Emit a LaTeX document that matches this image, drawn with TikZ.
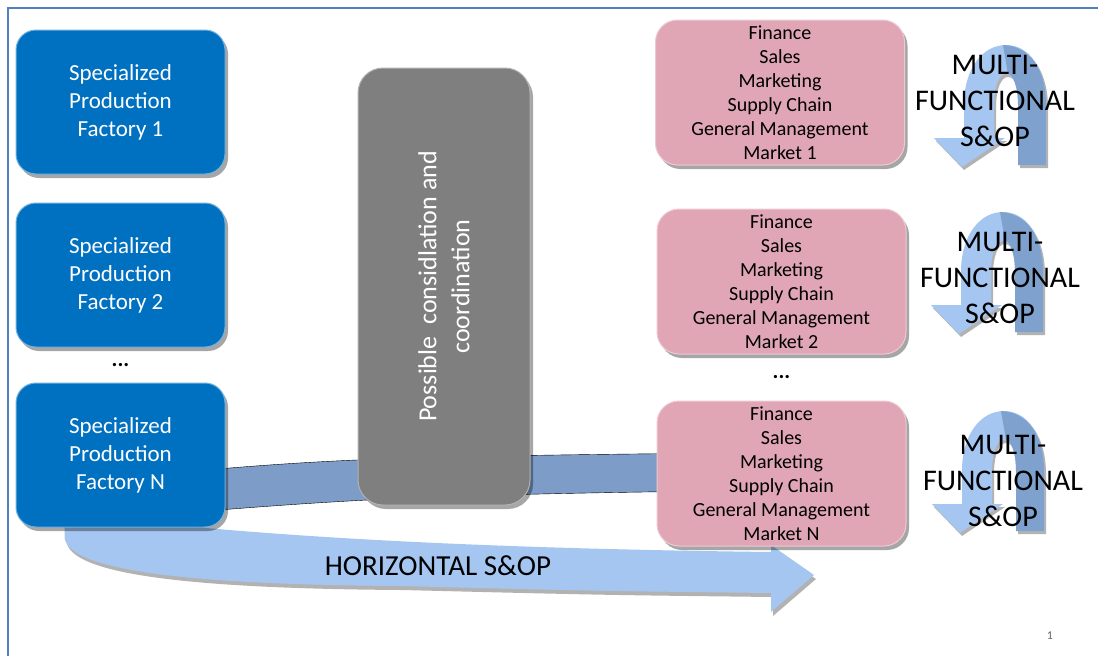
\documentclass[tikz,border=0pt]{standalone}
\usepackage{fontspec}
\setmainfont{Carlito}
\usetikzlibrary{positioning,calc,shadows,backgrounds}

\definecolor{factoryblue}{RGB}{0,112,192}
\definecolor{consgray}{RGB}{127,127,127}
\definecolor{marketpink}{RGB}{224,166,182}
\definecolor{arrowblue}{RGB}{164,198,240}
\definecolor{arrowdark}{RGB}{126,161,206}
\definecolor{bandblue}{RGB}{125,157,200}
\definecolor{frameblue}{RGB}{79,129,189}

\begin{document}
\begin{tikzpicture}[x=1pt,y=-1pt]
	% Configurable lengths
	\def\factoryGap{28pt}
	\def\factoryGapN{35pt}
	\def\marketGap{43pt}
	\def\marketGapN{46pt}

	% Styles
	\tikzstyle{boxshadow}=[drop shadow={shadow xshift=3pt, shadow yshift=-4pt, opacity=0.35, fill=black}]
	\tikzstyle{factory}=[boxshadow, rectangle, rounded corners=20pt, fill=factoryblue, draw=factoryblue!55!white, line width=1pt, minimum width=209pt, minimum height=144pt, text=white, align=center, font={\fontsize{23}{28}\selectfont}]
	\tikzstyle{consbox}=[boxshadow, rectangle, rounded corners=25pt, fill=consgray, draw=consgray!60!white, line width=1pt, minimum width=172pt, minimum height=437pt]
	\tikzstyle{market}=[boxshadow, rectangle, rounded corners=22pt, fill=marketpink, draw=marketpink!60!white, line width=1pt, minimum width=249pt, minimum height=145pt, inner sep=1pt, align=center, font={\fontsize{20}{24}\selectfont}]
	\tikzstyle{dots}=[font={\fontsize{22}{24}\selectfont\bfseries}]
	\tikzstyle{multi}=[align=center, font={\fontsize{30}{36}\selectfont}]
	\tikzstyle{band}=[fill=bandblue]
	\tikzstyle{bigarrow}=[fill=arrowblue, drop shadow={shadow xshift=2pt, shadow yshift=-4pt, opacity=0.3, fill=black}]

	\useasboundingbox (0,0) rectangle (1098,656);

	% Frame
	\draw[frameblue, line width=2pt] (8,656) -- (8,8) -- (1098,8);

	% Factories
	\node[factory] (fact1) at (120.5,102) {Specialized\\Production\\Factory 1};
	\node[factory, below=\factoryGap of fact1] (fact2) {Specialized\\Production\\Factory 2};
	\node[factory, below=\factoryGapN of fact2] (factN) {Specialized\\Production\\Factory N};
	\node[dots] (factDots) at ($(fact2.south)!0.5!(factN.north)$) {...};

	% Consolidation
	\node[consbox] (cons) at (444,286.5) {};
	\node[rotate=90, text=white, align=center, font={\fontsize{26}{33}\selectfont}] (consText) at (cons.center) {Possible\ \ considlation and\\coordination};

	% Markets
	\node[market] (mkt1) at (780,92.5) {Finance\\Sales\\Marketing\\Supply Chain\\General Management\\Market 1};
	\node[market, below=\marketGap of mkt1, xshift=1.5pt] (mkt2) {Finance\\Sales\\Marketing\\Supply Chain\\General Management\\Market 2};
	\node[market, below=\marketGapN of mkt2] (mktN) {Finance\\Sales\\Marketing\\Supply Chain\\General Management\\Market N};
	\node[dots] (mktDots) at ($(mkt2.south)!0.5!(mktN.north)$) {...};

	% Bands behind the boxes
	\begin{scope}[on background layer]
		\draw[band] ($(factN.east)+(-20,15)$) .. controls ($(factN.east)+(110,4)$) and ($(mktN.west)+(-250,-17)$) .. ($(mktN.west)+(20,-20)$)
			-- ($(mktN.west)+(20,18)$) .. controls ($(mktN.west)+(-250,22)$) and ($(factN.east)+(110,46)$) .. ($(factN.east)+(-20,56)$) -- cycle;
		\coordinate (hzTip) at (814,575);
		\path[bigarrow] ($(factN.south)+(-56,-10)$) -- ($(factN.south)+(-56,10)$)
			.. controls ($(factN.south)+(-52,42)$) and ($(factN.south)+(60,57)$) .. (400,586)
			.. controls (600,591) .. (771,593) -- (771,612) -- (hzTip) -- (771,545) -- (771,552)
			.. controls (520,549) and (340,540) .. ($(factN.south)+(80,0)$) -- ($(factN.south)+(80,-10)$) -- cycle;
	\end{scope}
	\node[font={\fontsize{29}{30}\selectfont}] (hzText) at (438,566) {HORIZONTAL S\&OP};

	% Multi-functional loops
	\foreach \i/\dx/\dy/\tx/\ty in {1/0/0/995/101, 2/-3/167/1000/278, N/-2/366/1003/481} {
		\begin{scope}[shift={(\dx,\dy)}]
			\path[fill=arrowblue, drop shadow={shadow xshift=2pt, shadow yshift=-3pt, opacity=0.3, fill=black}]
				(1046,165) -- (1046,105) .. controls (1046,68) and (1029,45) .. (1006,45)
				.. controls (983,45) and (964,68) .. (964,105) -- (964,138) -- (934,138) -- (962,167) -- (1005,138) -- (994,138)
				-- (994,105) .. controls (994,86) and (999,74) .. (1006,74) .. controls (1013,74) and (1018,86) .. (1018,105)
				-- (1018,165) -- cycle;
			\fill[arrowdark] (1003,45) .. controls (1029,46) and (1046,68) .. (1046,105) -- (1046,165) -- (1018,165)
				-- (1018,105) .. controls (1018,86) and (1013,74) .. (1008,74) -- cycle;
		\end{scope}
		\node[multi] (multi\i) at (\tx,\ty) {MULTI-\\FUNCTIONAL\\S\&OP};
	}

	% Page number
	\node[text=black!60, font={\fontsize{12}{14}\selectfont}] (pageNo) at (1050,636) {1};
\end{tikzpicture}
\end{document}
